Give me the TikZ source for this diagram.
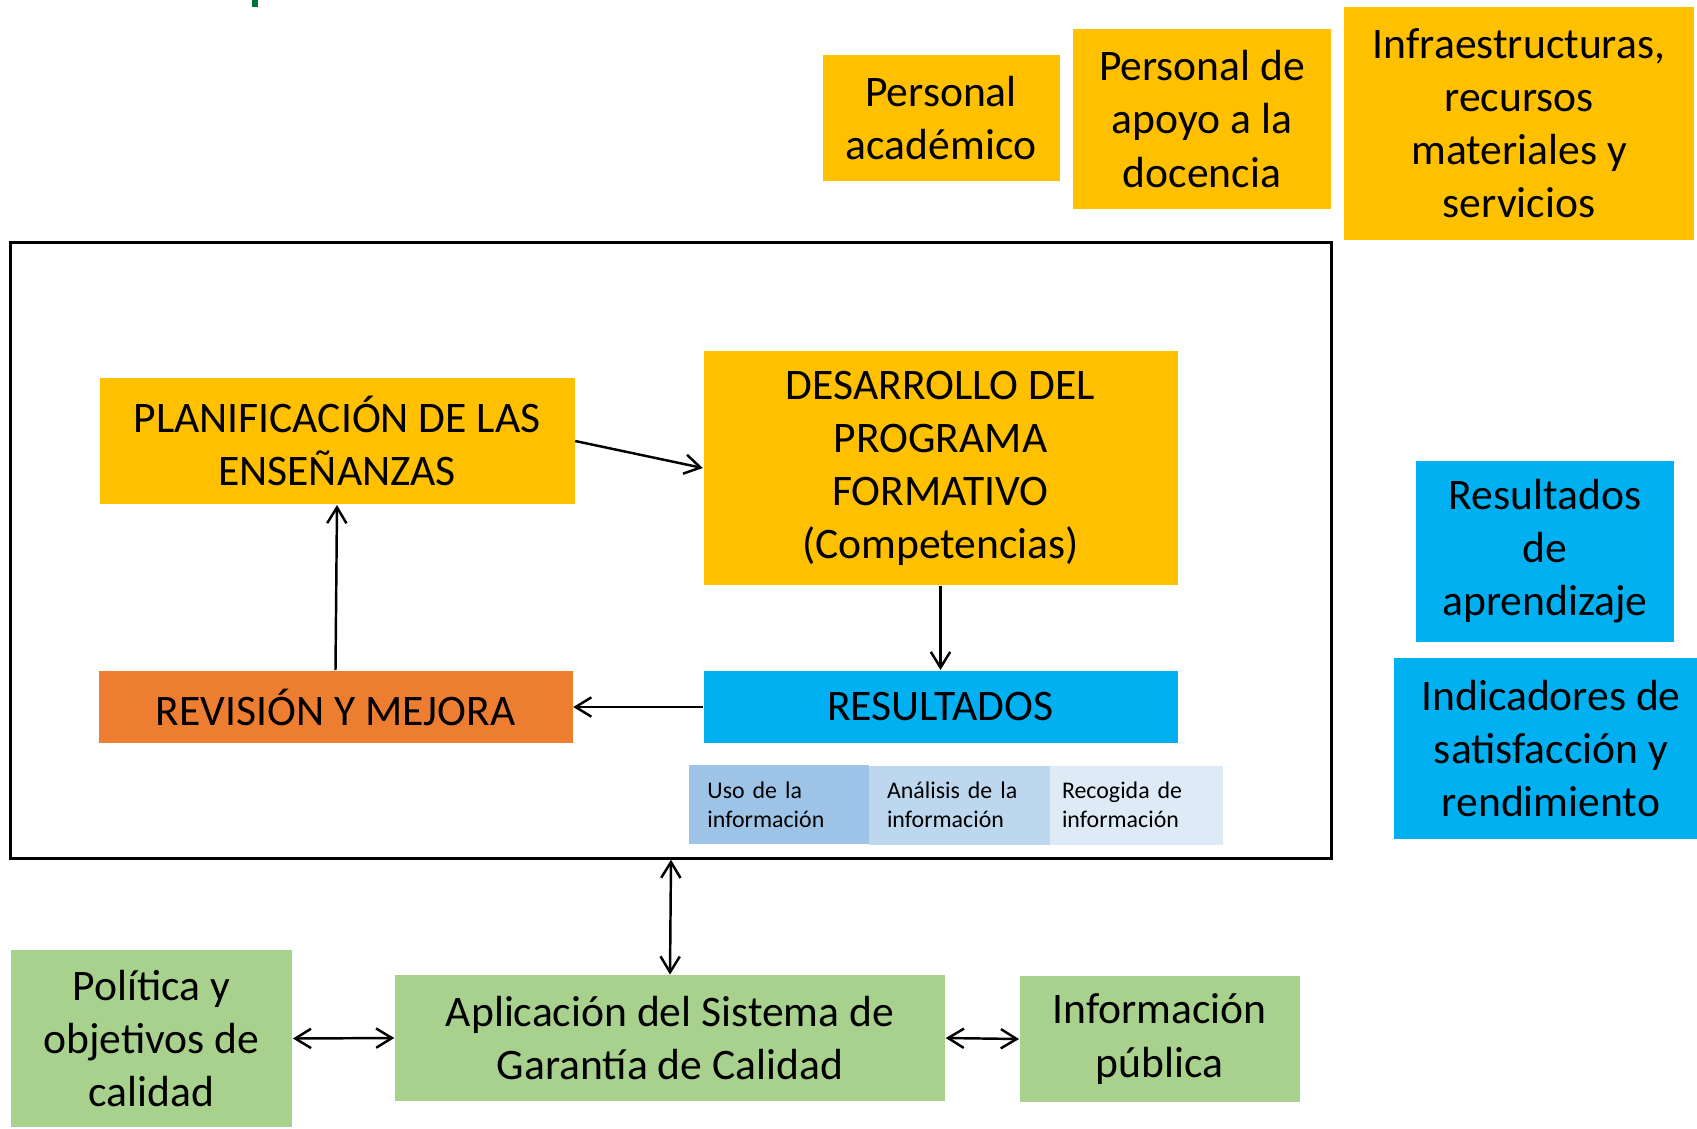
\documentclass[tikz,border=0pt]{standalone}
\usepackage{fontspec}
\setmainfont{Carlito}
\usetikzlibrary{arrows.meta}

\definecolor{amarillo}{HTML}{FFC000}
\definecolor{naranja}{HTML}{ED7D31}
\definecolor{azul}{HTML}{00B0F0}
\definecolor{verde}{HTML}{A9D18E}
\definecolor{verdeosc}{HTML}{00703C}
\definecolor{azulA}{HTML}{9DC3E6}
\definecolor{azulB}{HTML}{BDD7EE}
\definecolor{azulC}{HTML}{DEEBF7}

\tikzset{
    caja/.style n args={3}{fill=#1, minimum width=#2cm, minimum height=#3cm, inner sep=0pt, align=center,
        font=\fontsize{12.4}{15.1}\selectfont},
    infocaja/.style n args={2}{fill=#1, text width=#2cm, minimum height=0.79cm, inner xsep=0.18cm, inner ysep=0pt,
        align=left, font=\fontsize{6.8}{8.3}\selectfont},
    flecha/.style={line width=0.7pt, >={Straight Barb[length=4.5pt,width=5.5pt]}},
}

\begin{document}
\begin{tikzpicture}
        \useasboundingbox (0,0) rectangle (16.97,-11.28);

        \fill[verdeosc] (2.52,0) rectangle (2.58,-0.07);

        % recursos
        \node[caja={amarillo}{2.37}{1.255}] (acad) at (9.41,-1.18) {Personal\\acad\'emico};
        \node[caja={amarillo}{2.586}{1.797}] (apoyo) at (12.02,-1.19) {Personal de\\apoyo a la\\docencia};
        \node[caja={amarillo}{3.496}{2.338}] (infra) at (15.19,-1.234) {Infraestructuras,\\recursos\\materiales y\\servicios};

        \node[draw, line width=0.8pt, minimum width=13.204cm, minimum height=6.159cm, inner sep=0pt] (marco) at (6.71,-5.5035) {};

        % ciclo
        \node[caja={amarillo}{4.75}{1.267}] (plan) at (3.37,-4.41) {PLANIFICACI\'ON DE LAS\\ENSE\~NANZAS};
        \node[caja={amarillo}{4.74}{2.348}] (desa) at (9.405,-4.68) {DESARROLLO DEL\\PROGRAMA\\FORMATIVO\\(Competencias)};
        \node[caja={naranja}{4.74}{0.725}] (revi) at (3.355,-7.07) {REVISI\'ON Y MEJORA};
        \node[caja={azul}{4.74}{0.725}] (resu) at (9.405,-7.07) {RESULTADOS};

        \node[infocaja={azulA}{1.436}] (uso) at (7.792,-8.045) {Uso de la\\informaci\'on};
        \node[infocaja={azulB}{1.45}] (anal) at (9.595,-8.05) {An\'alisis de la\\informaci\'on};
        \node[infocaja={azulC}{1.49}, inner xsep=0.12cm] (reco) at (11.365,-8.05) {Recogida de\\informaci\'on};

        \node[caja={azul}{2.587}{1.808}] (apren) at (15.45,-5.514) {Resultados\\de\\aprendizaje};
        \node[caja={azul}{3.14}{1.808}] (indic) at (15.51,-7.484) {Indicadores de\\satisfacci\'on y\\rendimiento};

        % sistema
        \node[caja={verde}{2.814}{1.764}] (poli) at (1.515,-10.385) {Pol\'itica y\\objetivos de\\calidad};
        \node[caja={verde}{5.50}{1.255}] (apli) at (6.70,-10.38) {Aplicaci\'on del Sistema de\\Garant\'ia de Calidad};
        \node[caja={verde}{2.80}{1.256}] (info) at (11.597,-10.39) {Informaci\'on\\p\'ublica};

        \draw[flecha, ->] (plan.east) -- (desa.west);
        \draw[flecha, ->] (desa.south) -- (resu.north);
        \draw[flecha, ->] (resu.west) -- (revi.east);
        \draw[flecha, ->] (revi.north) -- (plan.south);

        \draw[flecha, <->] (marco.south) -- (apli.north);
        \draw[flecha, <->] (poli.east) -- (apli.west);
        \draw[flecha, <->] (apli.east) -- (info.west);
    \end{tikzpicture}
\end{document}
